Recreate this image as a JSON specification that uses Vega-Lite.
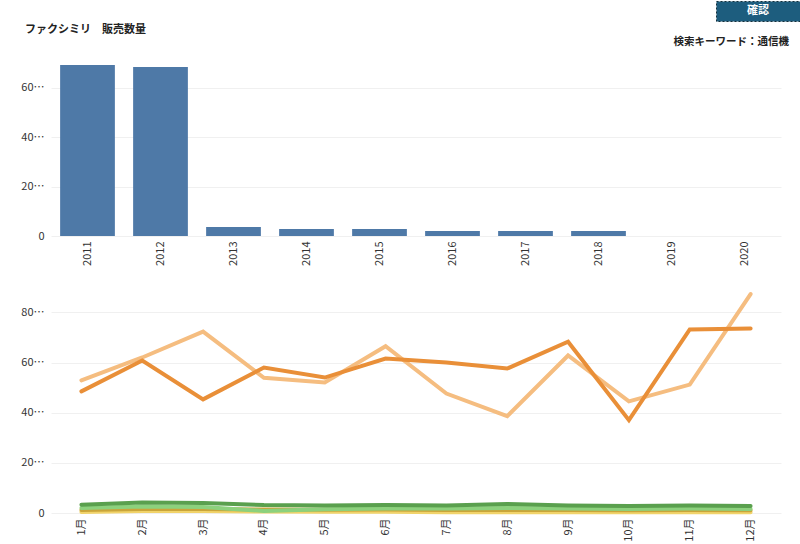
{
  "$schema": "https://vega.github.io/schema/vega-lite/v6.json",
  "padding": {"left": 20, "top": 0, "right": 0, "bottom": 0},
  "background": "white",
  "spacing": 1,
  "config": {
    "view": {"stroke": null},
    "font": "Noto Sans CJK JP",
    "axis": {
      "labelFont": "Noto Sans CJK JP",
      "labelFontSize": 11,
      "labelColor": "#333333",
      "ticks": false,
      "domain": false,
      "gridColor": "#f0f0f0",
      "title": null
    }
  },
  "datasets": {
    "bars": [
      {"year": "2011", "qty": 69.1},
      {"year": "2012", "qty": 68.3},
      {"year": "2013", "qty": 3.6},
      {"year": "2014", "qty": 2.8},
      {"year": "2015", "qty": 2.8},
      {"year": "2016", "qty": 2.0},
      {"year": "2017", "qty": 2.0},
      {"year": "2018", "qty": 2.0},
      {"year": "2019", "qty": 0},
      {"year": "2020", "qty": 0}
    ],
    "monthly": [
      {"year": "2012", "month": "1月", "qty": 52.9},
      {"year": "2012", "month": "2月", "qty": 62.0},
      {"year": "2012", "month": "3月", "qty": 72.3},
      {"year": "2012", "month": "4月", "qty": 53.9},
      {"year": "2012", "month": "5月", "qty": 52.0},
      {"year": "2012", "month": "6月", "qty": 66.5},
      {"year": "2012", "month": "7月", "qty": 47.6},
      {"year": "2012", "month": "8月", "qty": 38.6},
      {"year": "2012", "month": "9月", "qty": 62.8},
      {"year": "2012", "month": "10月", "qty": 44.5},
      {"year": "2012", "month": "11月", "qty": 51.2},
      {"year": "2012", "month": "12月", "qty": 87.3},
      {"year": "2011", "month": "1月", "qty": 48.5},
      {"year": "2011", "month": "2月", "qty": 60.8},
      {"year": "2011", "month": "3月", "qty": 45.3},
      {"year": "2011", "month": "4月", "qty": 58.0},
      {"year": "2011", "month": "5月", "qty": 54.0},
      {"year": "2011", "month": "6月", "qty": 61.6},
      {"year": "2011", "month": "7月", "qty": 60.0},
      {"year": "2011", "month": "8月", "qty": 57.6},
      {"year": "2011", "month": "9月", "qty": 68.3},
      {"year": "2011", "month": "10月", "qty": 37.0},
      {"year": "2011", "month": "11月", "qty": 73.2},
      {"year": "2011", "month": "12月", "qty": 73.6},
      {"year": "2016", "month": "1月", "qty": 0.4},
      {"year": "2016", "month": "2月", "qty": 0.8},
      {"year": "2016", "month": "3月", "qty": 0.8},
      {"year": "2016", "month": "4月", "qty": 0.6},
      {"year": "2016", "month": "5月", "qty": 0.5},
      {"year": "2016", "month": "6月", "qty": 0.5},
      {"year": "2016", "month": "7月", "qty": 0.3},
      {"year": "2016", "month": "8月", "qty": 0.3},
      {"year": "2016", "month": "9月", "qty": 0.3},
      {"year": "2016", "month": "10月", "qty": 0.3},
      {"year": "2016", "month": "11月", "qty": 0.3},
      {"year": "2016", "month": "12月", "qty": 0.3},
      {"year": "2015", "month": "1月", "qty": 1.2},
      {"year": "2015", "month": "2月", "qty": 1.6},
      {"year": "2015", "month": "3月", "qty": 1.6},
      {"year": "2015", "month": "4月", "qty": 1.4},
      {"year": "2015", "month": "5月", "qty": 1.3},
      {"year": "2015", "month": "6月", "qty": 1.4},
      {"year": "2015", "month": "7月", "qty": 1.2},
      {"year": "2015", "month": "8月", "qty": 1.2},
      {"year": "2015", "month": "9月", "qty": 1.2},
      {"year": "2015", "month": "10月", "qty": 1.1},
      {"year": "2015", "month": "11月", "qty": 1.2},
      {"year": "2015", "month": "12月", "qty": 1.1},
      {"year": "2014", "month": "1月", "qty": 2.0},
      {"year": "2014", "month": "2月", "qty": 2.6},
      {"year": "2014", "month": "3月", "qty": 2.4},
      {"year": "2014", "month": "4月", "qty": 0.8},
      {"year": "2014", "month": "5月", "qty": 1.5},
      {"year": "2014", "month": "6月", "qty": 1.8},
      {"year": "2014", "month": "7月", "qty": 1.8},
      {"year": "2014", "month": "8月", "qty": 2.0},
      {"year": "2014", "month": "9月", "qty": 1.8},
      {"year": "2014", "month": "10月", "qty": 1.6},
      {"year": "2014", "month": "11月", "qty": 1.8},
      {"year": "2014", "month": "12月", "qty": 1.6},
      {"year": "2013", "month": "1月", "qty": 3.3},
      {"year": "2013", "month": "2月", "qty": 4.2},
      {"year": "2013", "month": "3月", "qty": 4.0},
      {"year": "2013", "month": "4月", "qty": 3.2},
      {"year": "2013", "month": "5月", "qty": 3.0},
      {"year": "2013", "month": "6月", "qty": 3.2},
      {"year": "2013", "month": "7月", "qty": 3.0},
      {"year": "2013", "month": "8月", "qty": 3.6},
      {"year": "2013", "month": "9月", "qty": 3.0},
      {"year": "2013", "month": "10月", "qty": 2.8},
      {"year": "2013", "month": "11月", "qty": 3.0},
      {"year": "2013", "month": "12月", "qty": 2.8}
    ]
  },
  "vconcat": [
    {
      "spacing": 0,
      "hconcat": [
        {
          "width": 664,
          "height": 20,
          "data": {"values": [{"t": ""}]},
          "mark": {"type": "text"},
          "encoding": {"text": {"field": "t"}},
          "title": {
            "text": "ファクシミリ　販売数量",
            "orient": "bottom",
            "anchor": "start",
            "font": "Noto Sans CJK JP",
            "fontSize": 11,
            "fontWeight": "bold",
            "color": "#222222",
            "offset": 3,
            "dx": -26
          }
        },
        {
          "width": 84,
          "height": 20,
          "view": {"fill": "#1d5d7e", "stroke": "#15303c", "strokeDash": [2, 2]},
          "data": {"values": [{"t": "確認"}]},
          "mark": {"type": "text", "color": "white", "fontWeight": "bold", "fontSize": 11, "font": "Noto Sans CJK JP"},
          "encoding": {"text": {"field": "t"}}
        }
      ]
    },
    {
      "spacing": 20,
      "vconcat": [
        {
          "width": 730,
          "height": 183,
          "title": {
            "text": "検索キーワード：通信機",
            "anchor": "end",
            "font": "Noto Sans CJK JP",
            "fontSize": 10.5,
            "fontWeight": "bold",
            "color": "#222222",
            "offset": 6,
            "dx": 8
          },
          "data": {"name": "bars"},
          "mark": {"type": "bar", "color": "#4E79A7"},
          "encoding": {
            "x": {
              "field": "year",
              "type": "ordinal",
              "scale": {"paddingInner": 0.25, "paddingOuter": 0.125},
              "axis": {"labelAngle": -90, "labelAlign": "right", "labelBaseline": "middle", "labelPadding": 5, "grid": false}
            },
            "y": {
              "field": "qty",
              "type": "quantitative",
              "scale": {"domain": [0, 74], "nice": false},
              "axis": {"values": [0, 20, 40, 60], "labelExpr": "datum.value === 0 ? '0' : datum.label + '…'", "labelPadding": 7}
            }
          }
        },
        {
          "width": 730,
          "height": 227,
          "data": {"name": "monthly"},
          "mark": {"type": "line", "strokeWidth": 4, "strokeCap": "round"},
          "encoding": {
            "x": {
              "field": "month",
              "type": "ordinal",
              "sort": ["1月", "2月", "3月", "4月", "5月", "6月", "7月", "8月", "9月", "10月", "11月", "12月"],
              "scale": {"type": "point", "padding": 0.5},
              "axis": {"labelAngle": -90, "labelAlign": "right", "labelBaseline": "middle", "labelPadding": 5, "grid": false}
            },
            "y": {
              "field": "qty",
              "type": "quantitative",
              "scale": {"domain": [0, 90.5], "nice": false},
              "axis": {"values": [0, 20, 40, 60, 80], "labelExpr": "datum.value === 0 ? '0' : datum.label + '…'", "labelPadding": 7}
            },
            "color": {
              "field": "year",
              "type": "nominal",
              "scale": {
                "domain": ["2011", "2012", "2013", "2014", "2015", "2016"],
                "range": ["#E98F38", "#F5BD80", "#5AA04E", "#8CD17D", "#C9A53A", "#F1D36A"]
              },
              "legend": null
            }
          }
        }
      ]
    }
  ]
}
